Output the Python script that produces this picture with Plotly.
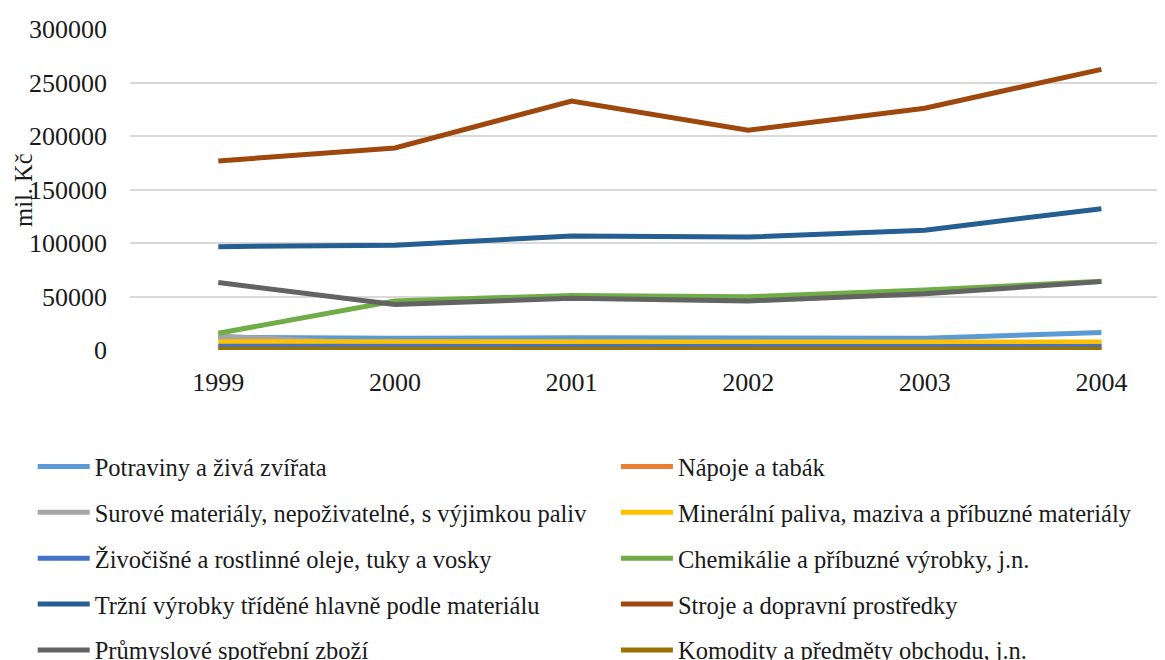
import plotly.graph_objects as go

years = [1999, 2000, 2001, 2002, 2003, 2004]

names = [
    'Potraviny a živá zvířata',
    'Nápoje a tabák',
    'Surové materiály, nepoživatelné, s výjimkou paliv',
    'Minerální paliva, maziva a příbuzné materiály',
    'Živočišné a rostlinné oleje, tuky a vosky',
    'Chemikálie a příbuzné výrobky, j.n.',
    'Tržní výrobky tříděné hlavně podle materiálu',
    'Stroje a dopravní prostředky',
    'Průmyslové spotřební zboží',
    'Komodity a předměty obchodu, j.n.',
]

potraviny = [12000, 11000, 11500, 11500, 11000, 16300]
napoje = [2000, 2000, 2200, 2200, 2300, 2500]
surove = [13000, 5000, 5000, 4800, 5000, 5500]
mineralni = [7800, 7500, 8000, 7600, 7500, 7500]
zivocisne = [3500, 3000, 3200, 3200, 3300, 3300]
chemikalie = [15600, 45800, 51000, 49800, 56000, 64300]
trzni = [96600, 98000, 106500, 105500, 112000, 132100]
stroje = [176700, 188800, 232700, 205400, 226000, 262300]
prumyslove = [63000, 42500, 48300, 45800, 52500, 63900]
komodity = [700, 700, 700, 700, 700, 700]

series = [potraviny, napoje, surove, mineralni, zivocisne,
          chemikalie, trzni, stroje, prumyslove, komodity]

colors = ['#5B9BD5', '#ED7D31', '#A5A5A5', '#FFC000', '#4472C4',
          '#70AD47', '#255E91', '#9E480E', '#636363', '#997300']

font = 'Liberation Serif'

fig = go.Figure()
for i, (name, vals, col) in enumerate(zip(names, series, colors)):
    fig.add_trace(go.Scatter(
        x=years, y=vals, mode='lines', name=name,
        line=dict(color=col, width=5),
        legendgroup=name,
        # left column gets the even entries, right column the odd ones
        legend='legend' if i % 2 == 0 else 'legend2',
    ))

leg = dict(
    orientation='v', yanchor='top', xanchor='left',
    font=dict(family=font, size=24.5, color='#1a1a1a'),
    tracegroupgap=11, itemwidth=52, bgcolor='rgba(0,0,0,0)',
)

# page body adds an 8px offset, so the figure is 8px smaller than the window
fig.update_layout(
    width=1157, height=652,
    margin=dict(l=122, r=0, t=21, b=310, autoexpand=False),
    plot_bgcolor='white', paper_bgcolor='white',
    font=dict(family=font, size=26, color='#1a1a1a'),
    legend=dict(leg, x=-0.094, y=-0.293),
    legend2=dict(leg, x=0.4695, y=-0.293),
    annotations=[dict(
        text='mil. Kč', textangle=-90, xref='paper', yref='paper',
        x=-0.103, y=0.5, xanchor='center', yanchor='middle',
        showarrow=False, font=dict(family=font, size=24.5, color='#1a1a1a'),
    )],
)

fig.update_xaxes(
    range=[1998.5, 2004.36], tickvals=years, showgrid=False,
    zeroline=False, showline=False, ticks='', ticklabelstandoff=14,
)
fig.update_yaxes(
    range=[0, 300000], dtick=50000, showgrid=True, gridcolor='#d9d9d9',
    gridwidth=1.5, zeroline=False, showline=False, ticks='',
    ticklabelstandoff=22, tickformat='d',
)

fig.write_html('out.html')
